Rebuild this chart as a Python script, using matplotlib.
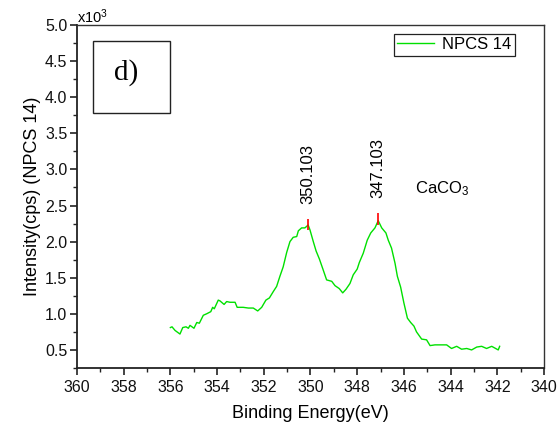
import matplotlib
matplotlib.use("Agg")
import matplotlib.pyplot as plt
from matplotlib.ticker import MultipleLocator, FormatStrFormatter
from matplotlib.patches import Rectangle

plt.rcParams['font.family'] = ['Liberation Sans', 'DejaVu Sans']
plt.rcParams['mathtext.fontset'] = 'custom'
plt.rcParams['mathtext.rm'] = 'Liberation Sans'
plt.rcParams['mathtext.it'] = 'Liberation Sans:italic'

# XPS spectrum, binding energy (eV) vs intensity (x10^3 cps)
binding_energy = [
    356.00, 355.93, 355.80, 355.59, 355.47, 355.33, 355.23, 355.16, 354.99, 354.87,
    354.76, 354.59, 354.45, 354.27, 354.19, 354.12, 353.95, 353.88, 353.70, 353.59,
    353.45, 353.23, 353.14, 352.88, 352.66, 352.45, 352.26, 352.09, 351.91, 351.76,
    351.59, 351.45, 351.31, 351.17, 351.02, 350.88, 350.74, 350.59, 350.52, 350.38,
    350.24, 350.10, 350.02, 349.88, 349.76, 349.62, 349.48, 349.31, 349.09, 348.95,
    348.77, 348.62, 348.48, 348.31, 348.17, 348.00, 347.91, 347.74, 347.57, 347.42,
    347.24, 347.10, 346.95, 346.77, 346.67, 346.53, 346.38, 346.28, 346.14, 346.00,
    345.85, 345.71, 345.57, 345.46, 345.24, 345.03, 344.88, 344.67, 344.17, 343.96,
    343.74, 343.53, 343.31, 343.10, 342.88, 342.67, 342.46, 342.24, 341.96, 341.90,
]
intensity = [
    0.81, 0.82, 0.77, 0.72, 0.81, 0.82, 0.80, 0.84, 0.80, 0.88,
    0.87, 0.98, 1.00, 1.03, 1.09, 1.07, 1.19, 1.18, 1.13, 1.17,
    1.16, 1.16, 1.09, 1.09, 1.08, 1.08, 1.04, 1.09, 1.19, 1.22,
    1.31, 1.38, 1.52, 1.65, 1.85, 2.00, 2.06, 2.07, 2.15, 2.19,
    2.19, 2.23, 2.16, 2.00, 1.87, 1.76, 1.63, 1.47, 1.45, 1.39,
    1.35, 1.29, 1.34, 1.42, 1.54, 1.62, 1.71, 1.84, 2.02, 2.12,
    2.19, 2.29, 2.19, 2.12, 2.02, 1.91, 1.70, 1.52, 1.37, 1.15,
    0.94, 0.88, 0.83, 0.75, 0.65, 0.64, 0.56, 0.57, 0.57, 0.52,
    0.55, 0.51, 0.52, 0.50, 0.54, 0.55, 0.52, 0.55, 0.50, 0.55,
]

# Peak positions and heights
peak_positions = [350.103, 347.103]
peak_heights = [2.235, 2.31]
peak_labels = ["350.103", "347.103"]

series_name = "NPCS 14"

fig = plt.figure(figsize=(5.59, 4.26), dpi=100)
ax = fig.add_axes([0.1377, 0.1362, 0.8355, 0.8051])

ax.plot(binding_energy, intensity, color='#00e000', lw=1.0, label=series_name)

for xp, yp, lab in zip(peak_positions, peak_heights, peak_labels):
    ax.vlines(xp, yp - 0.08, yp + 0.08, color='red', lw=1.2)
    ax.text(xp, yp + 0.29, lab, rotation=90, ha='center', va='bottom', fontsize=12)

ax.text(345.52, 2.74, r'CaCO$_3$', ha='left', va='center', fontsize=12)

ax.set_xlim(360, 340)
ax.set_ylim(0.25, 5.0)
ax.xaxis.set_major_locator(MultipleLocator(2))
ax.xaxis.set_minor_locator(MultipleLocator(1))
ax.yaxis.set_major_locator(MultipleLocator(0.5))
ax.yaxis.set_minor_locator(MultipleLocator(0.25))
ax.xaxis.set_major_formatter(FormatStrFormatter('%d'))
ax.yaxis.set_major_formatter(FormatStrFormatter('%.1f'))
ax.tick_params(which='major', direction='out', length=5, width=1.2, labelsize=11.5,
               top=False, right=False, color='#222222', labelcolor='#111111')
ax.tick_params(which='minor', direction='out', length=3, width=1.0,
               top=False, right=False, color='#222222')
ax.tick_params(axis='x', pad=4)
ax.tick_params(axis='y', pad=2)

for side in ['left', 'bottom']:
    ax.spines[side].set_linewidth(1.3)
    ax.spines[side].set_color('#222222')
for side in ['top', 'right']:
    ax.spines[side].set_linewidth(1.0)
    ax.spines[side].set_color('#333333')

ax.set_xlabel('Binding Energy(eV)', fontsize=13, labelpad=7)
ax.set_ylabel('Intensity(cps) (NPCS 14)', fontsize=13, labelpad=3)

fig.text(77 / 559, 1 - 17 / 426, r'x10$^3$', fontsize=10.5, ha='left', va='center')

leg = ax.legend(loc='upper right', bbox_to_anchor=(0.938, 0.974), fontsize=12,
                frameon=True, fancybox=False, handlelength=2.2, borderpad=0.2,
                handletextpad=0.5, borderaxespad=0)
leg.get_frame().set_edgecolor('#222222')
leg.get_frame().set_linewidth(0.9)
leg.get_frame().set_alpha(1)

ax.add_patch(Rectangle((0.0343, 0.743), 0.1647, 0.21, transform=ax.transAxes,
                       fill=False, edgecolor='#222222', lw=1.0))
ax.text(0.1045, 0.86, 'd)', transform=ax.transAxes, ha='center', va='center',
        fontsize=21, family='Liberation Serif')

fig.savefig('out.png', dpi=100)
